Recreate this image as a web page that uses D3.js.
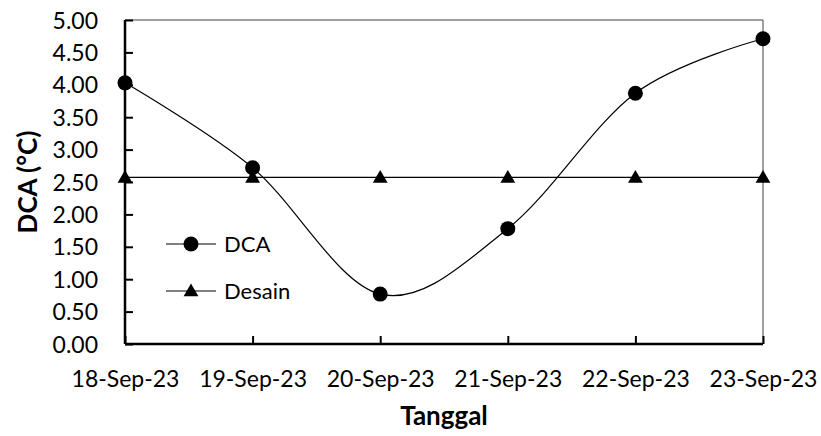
<!DOCTYPE html>
<html><head><meta charset="utf-8">
<script src="https://cdn.jsdelivr.net/npm/d3@7"></script>
<style>body{margin:0;background:#fff;} svg{display:block;}</style>
</head><body>
<svg id="chart" width="821" height="436"></svg>
<script>
const categories = ["18-Sep-23","19-Sep-23","20-Sep-23","21-Sep-23","22-Sep-23","23-Sep-23"];
const dcaValues = [4.03, 2.72, 0.77, 1.78, 3.87, 4.71];
const desainValues = [2.57, 2.57, 2.57, 2.57, 2.57, 2.57];
const yTicks = [0,0.5,1,1.5,2,2.5,3,3.5,4,4.5,5];
const seriesNames = ["DCA","Desain"];

const FONT = "Lato, 'Open Sans', sans-serif";
const svg = d3.select("#chart");
const m = {left:125, right:763, top:20, bottom:344};

const x = d3.scalePoint().domain(categories).range([m.left, m.right]);
const y = d3.scaleLinear().domain([0,5]).range([m.bottom, m.top]);

// frame (top/right)
svg.append("line").attr("x1",m.left).attr("x2",m.right).attr("y1",m.top).attr("y2",m.top)
  .attr("stroke","#404040").attr("stroke-width",1);
svg.append("line").attr("x1",m.right).attr("x2",m.right).attr("y1",m.top).attr("y2",m.bottom)
  .attr("stroke","#404040").attr("stroke-width",1);

// y axis
const yAxis = svg.append("g").attr("transform",`translate(${m.left},0)`)
  .call(d3.axisRight(y).tickValues(yTicks).tickSize(8).tickFormat(d3.format(".2f")));
yAxis.select(".domain").attr("stroke","#000").attr("stroke-width",2.5).attr("d",`M0,${m.top}V${m.bottom}`);
yAxis.selectAll(".tick line").attr("stroke","#000").attr("stroke-width",2);
yAxis.selectAll(".tick text").attr("x",-27).attr("text-anchor","end").attr("dy","0.35em")
  .style("font-family",FONT).style("font-size","23px").attr("fill","#000");

// x axis
const xAxis = svg.append("g").attr("transform",`translate(0,${m.bottom})`)
  .call(d3.axisTop(x).tickSize(8).tickSizeOuter(0));
xAxis.select(".domain").attr("stroke","#000").attr("stroke-width",2.5).attr("d",`M${m.left},0H${m.right}`);
xAxis.selectAll(".tick line").attr("stroke","#000").attr("stroke-width",2);
xAxis.selectAll(".tick text").attr("y",43).attr("dy",0).attr("text-anchor","middle")
  .style("font-family",FONT).style("font-size","23px").attr("fill","#000");

// Desain line
const desData = categories.map((c,i)=>({c, v:desainValues[i]}));
svg.append("path").datum(desData)
  .attr("d", d3.line().x(d=>x(d.c)).y(d=>y(d.v)))
  .attr("fill","none").attr("stroke","#000").attr("stroke-width",1.2);

// DCA smooth line
const dcaData = categories.map((c,i)=>({c, v:dcaValues[i]}));
svg.append("path").datum(dcaData)
  .attr("d", d3.line().x(d=>x(d.c)).y(d=>y(d.v)).curve(d3.curveCardinal.tension(0)))
  .attr("fill","none").attr("stroke","#000").attr("stroke-width",1.2);

const tri = d3.symbol().type(d3.symbolTriangle).size(95);
svg.selectAll(".tri").data(desData).enter().append("path")
  .attr("transform",d=>`translate(${x(d.c)},${y(d.v)+1})`).attr("d",tri).attr("fill","#000");
svg.selectAll(".dot").data(dcaData).enter().append("circle")
  .attr("cx",d=>x(d.c)).attr("cy",d=>y(d.v)).attr("r",7.5).attr("fill","#000");

// legend
const lg = svg.append("g");
const legY = [244, 291];
seriesNames.forEach((n,i)=>{
  const yy = legY[i];
  lg.append("line").attr("x1",166).attr("x2",216).attr("y1",yy).attr("y2",yy).attr("stroke","#000").attr("stroke-width",1.2);
  if(i===0) lg.append("circle").attr("cx",191).attr("cy",yy).attr("r",7.5).attr("fill","#000");
  else lg.append("path").attr("transform",`translate(191,${yy+1})`).attr("d",tri).attr("fill","#000");
  lg.append("text").attr("x",224).attr("y",yy).attr("dy","0.35em").text(n)
    .style("font-family",FONT).style("font-size","22px").attr("fill","#000");
});

// axis titles
svg.append("text").attr("x",(m.left+m.right)/2).attr("y",425).attr("text-anchor","middle")
  .text("Tanggal").style("font-family",FONT).style("font-size","26px").style("font-weight","bold");
svg.append("text").attr("transform",`translate(37,${(m.top+m.bottom)/2}) rotate(-90)`).attr("text-anchor","middle")
  .text("DCA (°C)").style("font-family",FONT).style("font-size","26px").style("font-weight","bold");
</script>
</body></html>
